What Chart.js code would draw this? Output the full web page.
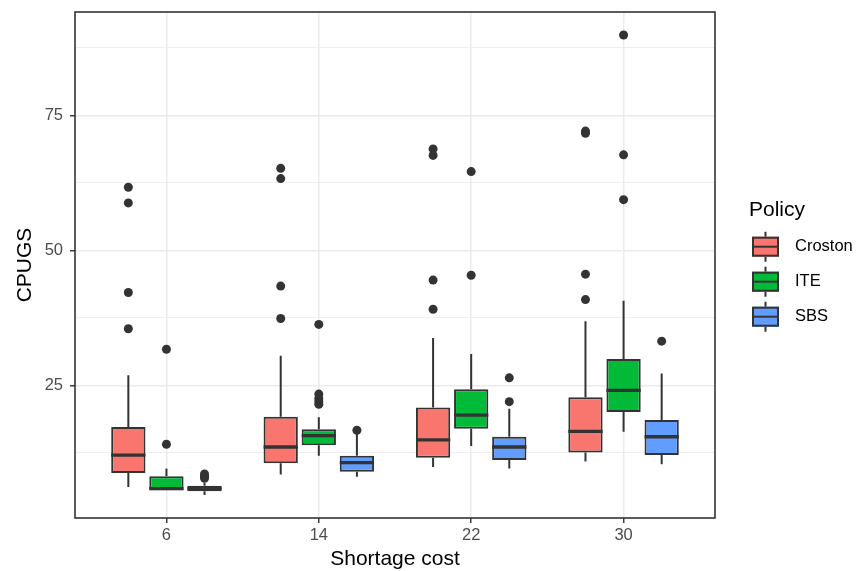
<!DOCTYPE html>
<html>
<head>
<meta charset="utf-8">
<script src="https://cdn.jsdelivr.net/npm/chart.js@4.4.0/dist/chart.umd.min.js"></script>
<style>
  body { margin: 0; background: #fff; }
</style>
</head>
<body>
<canvas id="box-chart" width="861" height="571"></canvas>
<script>
const costs = ['6', '14', '22', '30'];
const policies = ['Croston', 'ITE', 'SBS'];
const policyColors = ['#F8766D', '#00BA38', '#619CFF'];
const yTicks = [12.5, 25, 37.5, 50, 62.5, 75, 87.5];

// box stats, one entry per shortage cost
const crostonLow  = [6.2, 8.5, 9.9, 10.9];
const crostonQ1   = [8.8, 10.6, 11.6, 12.6];
const crostonMed  = [12.1, 13.6, 14.9, 16.5];
const crostonQ3   = [17.3, 19.2, 20.9, 22.8];
const crostonHigh = [26.9, 30.5, 33.8, 36.9];
const crostonOut  = [[35.5, 42.2, 58.8, 61.7], [37.4, 43.4, 63.3, 65.2], [39.1, 44.5, 67.6, 68.8], [40.9, 45.6, 71.7, 72.1]];

const iteLow  = [5.6, 12.0, 13.8, 16.4];
const iteQ1   = [5.6, 13.9, 17.0, 20.1];
const iteMed  = [5.9, 15.7, 19.5, 24.1];
const iteQ3   = [8.2, 16.9, 24.3, 29.9];
const iteHigh = [9.6, 19.1, 30.8, 40.7];
const iteOut  = [[14.1, 31.7], [21.5, 22.0, 22.6, 23.4, 36.3], [45.4, 64.6], [59.4, 67.7, 89.9]];

const sbsLow  = [4.7, 8.1, 9.6, 10.4];
const sbsQ1   = [5.4, 9.0, 11.2, 12.1];
const sbsMed  = [5.9, 10.7, 13.6, 15.5];
const sbsQ3   = [6.4, 12.0, 15.5, 18.6];
const sbsHigh = [7.0, 16.3, 20.7, 27.2];
const sbsOut  = [[7.8, 8.2, 8.6], [16.7], [22.0, 26.4], [33.2]];

const boxStats = [
    {low: crostonLow, q1: crostonQ1, med: crostonMed, q3: crostonQ3, high: crostonHigh, out: crostonOut},
    {low: iteLow, q1: iteQ1, med: iteMed, q3: iteQ3, high: iteHigh, out: iteOut},
    {low: sbsLow, q1: sbsQ1, med: sbsMed, q3: sbsQ3, high: sbsHigh, out: sbsOut}
];

const dark = '#333333';
const lineW = 2;
Chart.defaults.font.family = "'Liberation Sans', Arial, Helvetica, sans-serif";

var datasets = [];
// boxes are floating bars from q1 to q3
boxStats.forEach(function(s, p) {
    datasets.push({
        type: 'bar',
        label: policies[p],
        data: costs.map((c, i) => ({x: i + 1, y: [s.q1[i], s.q3[i]]})),
        backgroundColor: policyColors[p],
        borderColor: dark,
        borderWidth: lineW,
        borderSkipped: false,
        categoryPercentage: 0.75,
        barPercentage: 0.9,
        order: 2
    });
});
// outliers, dodged the same way as the boxes
boxStats.forEach(function(s, p) {
    var pts = [];
    s.out.forEach((vals, i) => vals.forEach(v => pts.push({x: i + 1 + (p - 1) * 0.25, y: v})));
    datasets.push({
        type: 'scatter',
        label: policies[p] + ' outliers',
        data: pts,
        pointRadius: 4.5,
        pointBackgroundColor: dark,
        pointBorderWidth: 0,
        order: 1
    });
});

const boxPlugin = {
    id: 'boxWhiskers',
    beforeDatasetsDraw(chart) {
        const ctx = chart.ctx;
        const y = chart.scales.y;
        ctx.save();
        ctx.strokeStyle = dark;
        ctx.lineWidth = lineW;
        boxStats.forEach(function(s, p) {
            chart.getDatasetMeta(p).data.forEach(function(bar, i) {
                ctx.beginPath();
                ctx.moveTo(bar.x, y.getPixelForValue(s.high[i]));
                ctx.lineTo(bar.x, y.getPixelForValue(s.q3[i]));
                ctx.moveTo(bar.x, y.getPixelForValue(s.q1[i]));
                ctx.lineTo(bar.x, y.getPixelForValue(s.low[i]));
                ctx.stroke();
            });
        });
        ctx.restore();
    },
    afterDatasetDraw(chart, args) {
        if (args.index > 2) return;
        const ctx = chart.ctx;
        const y = chart.scales.y;
        const s = boxStats[args.index];
        ctx.save();
        ctx.strokeStyle = dark;
        ctx.lineWidth = 3.3;
        args.meta.data.forEach(function(bar, i) {
            const ym = y.getPixelForValue(s.med[i]);
            ctx.beginPath();
            ctx.moveTo(bar.x - bar.width / 2, ym);
            ctx.lineTo(bar.x + bar.width / 2, ym);
            ctx.stroke();
        });
        ctx.restore();
    },
    afterDraw(chart) {
        const ctx = chart.ctx;
        const a = chart.chartArea;
        ctx.save();
        // panel border
        ctx.strokeStyle = dark;
        ctx.lineWidth = 1.6;
        ctx.strokeRect(a.left, a.top, a.right - a.left, a.bottom - a.top);

        // legend
        ctx.fillStyle = '#000';
        ctx.font = "21px 'Liberation Sans', Arial, sans-serif";
        ctx.textBaseline = 'alphabetic';
        ctx.fillText('Policy', 749, 216);
        ctx.font = "16.5px 'Liberation Sans', Arial, sans-serif";
        ctx.textBaseline = 'middle';
        policies.forEach(function(name, p) {
            const cy = 246.7 + p * 35;
            const cx = 765.5;
            ctx.strokeStyle = dark;
            ctx.lineWidth = lineW;
            ctx.beginPath();
            ctx.moveTo(cx, cy - 15); ctx.lineTo(cx, cy - 10);
            ctx.moveTo(cx, cy + 10); ctx.lineTo(cx, cy + 15);
            ctx.stroke();
            ctx.fillStyle = policyColors[p];
            ctx.fillRect(752, cy - 10, 27, 20);
            ctx.strokeRect(753, cy - 9, 25, 18);
            ctx.beginPath();
            ctx.moveTo(752, cy); ctx.lineTo(779, cy);
            ctx.stroke();
            ctx.fillStyle = '#000';
            ctx.fillText(name, 795, cy);
        });
        ctx.restore();
    }
};

const isMajor = v => v % 25 === 0;

new Chart(document.getElementById('box-chart'), {
    type: 'bar',
    data: { datasets: datasets },
    options: {
        responsive: false,
        animation: false,
        devicePixelRatio: 1,
        layout: { padding: { top: 12, right: 146, bottom: 0, left: 0 } },
        plugins: {
            legend: { display: false },
            tooltip: { enabled: false }
        },
        scales: {
            x: {
                type: 'linear',
                min: 0.4,
                max: 4.6,
                offset: false,
                afterBuildTicks: scale => { scale.ticks = costs.map((c, i) => ({value: i + 1})); },
                afterFit: scale => { scale.height = 53; scale.paddingLeft = 0; scale.paddingRight = 0; },
                border: { display: false },
                grid: {
                    offset: false,
                    color: '#EBEBEB',
                    lineWidth: 1.5,
                    tickColor: dark,
                    tickWidth: 1.4,
                    tickLength: 5
                },
                ticks: {
                    autoSkip: false,
                    maxRotation: 0,
                    padding: 3,
                    color: '#4D4D4D',
                    font: { size: 16.5 },
                    callback: v => costs[v - 1]
                },
                title: {
                    display: true,
                    text: 'Shortage cost',
                    color: '#000',
                    font: { size: 21, lineHeight: 1 },
                    padding: { top: 0, bottom: 1.5 }
                }
            },
            y: {
                type: 'linear',
                min: 0.45,
                max: 94.15,
                afterBuildTicks: scale => { scale.ticks = yTicks.map(v => ({value: v})); },
                afterFit: scale => { scale.width = 75; scale.paddingTop = 0; scale.paddingBottom = 0; },
                border: { display: false },
                grid: {
                    color: '#EBEBEB',
                    lineWidth: ctx => isMajor(ctx.tick.value) ? 1.5 : 0.8,
                    tickColor: ctx => isMajor(ctx.tick.value) ? dark : 'rgba(0,0,0,0)',
                    tickWidth: 1.4,
                    tickLength: 5
                },
                ticks: {
                    autoSkip: false,
                    padding: 7,
                    color: '#4D4D4D',
                    font: { size: 16.5 },
                    callback: v => isMajor(v) ? String(v) : ''
                },
                title: {
                    display: true,
                    text: 'CPUGS',
                    color: '#000',
                    font: { size: 21, lineHeight: 1 },
                    padding: { top: 15.2, bottom: 0 }
                }
            }
        }
    },
    plugins: [boxPlugin]
});
</script>
</body>
</html>
